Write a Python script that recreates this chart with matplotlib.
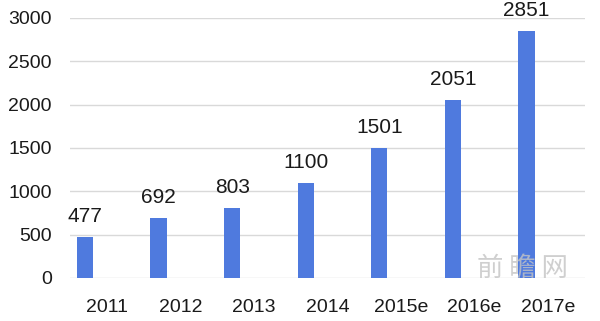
import numpy as np
import matplotlib.pyplot as plt

# 数据
years = ["2011", "2012", "2013", "2014", "2015e", "2016e", "2017e"]
values = [477, 692, 803, 1100, 1501, 2051, 2851]

plt.rcParams['font.family'] = ['Liberation Sans', 'Noto Sans CJK SC', 'DejaVu Sans']

fig = plt.figure(figsize=(6, 3.21), dpi=100)
ax = fig.add_axes([70 / 600, 1 - 278 / 321, 515 / 600, 260 / 321])

x = np.arange(len(years))
bars = ax.bar(x - 0.296, values, width=0.22, color="#4f7ade", zorder=2)

for xi, v in zip(x, values):
    ax.annotate(str(v), (xi - 0.296, v), xytext=(0, 8), textcoords="offset points",
                ha="center", va="bottom", fontsize=15, color="#1a1a1a")

ax.set_xlim(-0.5, len(years) - 0.5)
ax.set_ylim(0, 3000)
ax.set_yticks(np.arange(0, 3001, 500))
ax.set_xticks(x)
ax.set_xticklabels(years)
ax.tick_params(axis="both", length=0, labelsize=14, colors="#1a1a1a")
ax.tick_params(axis="x", pad=15)
ax.tick_params(axis="y", pad=13)
ax.grid(axis="y", color="#d9d9d9", linewidth=1, zorder=0)
for s in ax.spines.values():
    s.set_visible(False)

# 水印
fig.text(0.87, 0.165, "前 瞻 网", fontsize=19, color="#c4c4c4", ha="center", va="center",
         family=['Noto Sans CJK SC', 'DejaVu Sans'], alpha=0.8)

fig.savefig("out.png", dpi=100)
